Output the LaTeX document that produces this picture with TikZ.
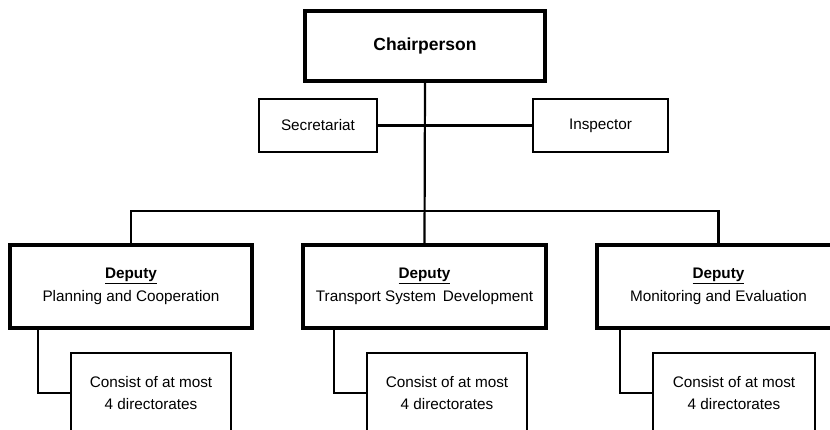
\documentclass[tikz,border=0pt]{standalone}
\usepackage{fontspec}
\setmainfont{Liberation Sans}
\begin{document}
\begin{tikzpicture}[x=1pt,y=1pt,
  thickbox/.style={draw=black, line width=3.3pt, fill=white, align=center, inner sep=0pt},
  thinbox/.style={draw=black, line width=2.2pt, fill=white, align=center, inner sep=0pt},
  conn/.style={draw=black, line width=2.2pt},
  txt/.style={font=\fontsize{15.3}{22.5}\selectfont}
]
\useasboundingbox (0,0) rectangle (830,429);
\clip (0,0) rectangle (830,429);
\coordinate (bar) at (425,218);
% nodes
\node[thickbox, minimum width=240pt, minimum height=70pt, font=\fontsize{17.5}{21}\selectfont\bfseries] (chair) at (425,383) {Chairperson};
\node[thinbox, txt, minimum width=118pt, minimum height=53pt] (sec) at (318,303.5) {Secretariat};
\node[thinbox, txt, minimum width=135pt, minimum height=53pt] (insp) at (600.5,303.5) {Inspector};
\node[thickbox, txt, minimum width=242pt, minimum height=83pt] (dl) at (131,142.5) {\textbf{\underline{Deputy}}\\Planning and Cooperation};
\node[thickbox, txt, minimum width=243pt, minimum height=83pt] (dm) at (424.5,142.5) {\textbf{\underline{Deputy}}\\Transport System\, Development};
\node[thickbox, txt, minimum width=243pt, minimum height=83pt] (dr) at (718.5,142.5) {\textbf{\underline{Deputy}}\\Monitoring and Evaluation};
\node[thinbox, txt, minimum width=160pt, minimum height=80pt] (sl) at (151,36) {Consist of at most\\4 directorates};
\node[thinbox, txt, minimum width=160pt, minimum height=80pt] (sm) at (447,36) {Consist of at most\\4 directorates};
\node[thinbox, txt, minimum width=162pt, minimum height=80pt] (sr) at (734,36) {Consist of at most\\4 directorates};
% connectors
\path[conn] (chair.south) -- (dm.north);
\path[conn] (sec.east) -- (insp.west);
\path[conn] (dl.north) -- (dl.north |- bar) -- (dr.north |- bar) -- (dr.north);
\path[conn] ([xshift=30pt]dl.south west) |- (sl.west);
\path[conn] ([xshift=33pt]dm.south west) |- (sm.west);
\path[conn] ([xshift=25pt]dr.south west) |- (sr.west);
\end{tikzpicture}
\end{document}
